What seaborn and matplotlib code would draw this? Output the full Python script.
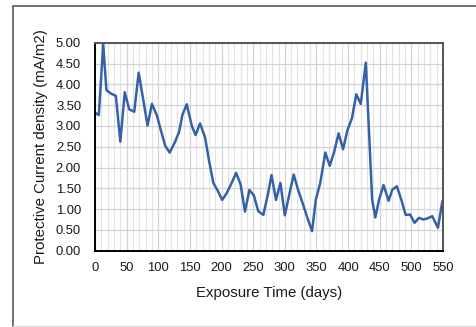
import numpy as np
import pandas as pd
import seaborn as sns
import matplotlib.pyplot as plt
from matplotlib.lines import Line2D
from matplotlib.ticker import MultipleLocator, FormatStrFormatter

# values
days = [0, 6, 13, 18, 25, 33, 40, 47, 54, 62, 69, 76, 83, 90, 98, 104, 111, 118,
        126, 133, 138, 145, 153, 159, 166, 174, 180, 187, 194, 201, 208, 216, 223,
        230, 237, 244, 251, 258, 266, 273, 279, 286, 293, 300, 307, 314, 321, 328,
        335, 343, 349, 356, 364, 371, 378, 385, 392, 399, 406, 413, 420, 428, 438,
        443, 449, 456, 464, 470, 477, 484, 491, 498, 505, 512, 519, 526, 533, 542,
        549]
current = [3.32, 3.26, 4.96, 3.86, 3.78, 3.72, 2.62, 3.81, 3.40, 3.34, 4.28, 3.65,
           3.01, 3.53, 3.24, 2.90, 2.52, 2.36, 2.60, 2.86, 3.26, 3.52, 3.00, 2.78,
           3.06, 2.72, 2.18, 1.63, 1.44, 1.22, 1.38, 1.63, 1.87, 1.60, 0.94, 1.46,
           1.33, 0.95, 0.86, 1.34, 1.82, 1.22, 1.63, 0.85, 1.35, 1.83, 1.46, 1.15,
           0.82, 0.47, 1.23, 1.63, 2.36, 2.04, 2.38, 2.82, 2.44, 2.90, 3.18, 3.76,
           3.53, 4.52, 1.23, 0.80, 1.23, 1.58, 1.20, 1.47, 1.55, 1.23, 0.86, 0.87,
           0.67, 0.79, 0.75, 0.78, 0.83, 0.55, 1.19]

df = pd.DataFrame({"days": days, "current": current})

sns.set_style("white")
plt.rcParams['font.family'] = ['Liberation Sans', 'DejaVu Sans']

fig = plt.figure(figsize=(4.76, 3.27), dpi=100)
ax = fig.add_axes([0.1996, 0.2333, 0.7311, 0.6361])

sns.lineplot(data=df, x="days", y="current", ax=ax, color="#3461a8", linewidth=1.8)

ax.set_xlim(0, 550)
ax.set_ylim(0, 5)
ax.xaxis.set_major_locator(MultipleLocator(50))
ax.xaxis.set_minor_locator(MultipleLocator(10))
ax.yaxis.set_major_locator(MultipleLocator(0.5))
ax.yaxis.set_major_formatter(FormatStrFormatter('%.2f'))

ax.grid(which='major', color='#d3d3d3', linewidth=0.9)
ax.grid(which='minor', axis='x', color='#e2e2e2', linewidth=0.8)
ax.set_axisbelow(True)

for side in ['left', 'bottom']:
    ax.spines[side].set_color('black')
    ax.spines[side].set_linewidth(1.4)
for side in ['top', 'right']:
    ax.spines[side].set_color('#555555')
    ax.spines[side].set_linewidth(1.4)

ax.tick_params(which='major', direction='inout', length=6, width=1.2,
               color='black', labelsize=9.4, labelcolor='#1a1a1a')
ax.tick_params(axis='y', pad=7)
ax.tick_params(axis='x', pad=5)
ax.tick_params(which='minor', length=0)

ax.set_xlabel("Exposure Time (days)", fontsize=10.8, color='#1a1a1a', labelpad=9)
ax.set_ylabel("Protective Current density (mA/m2)", fontsize=10.8,
              color='#1a1a1a', labelpad=6)

# outer chart frame
fig.add_artist(Line2D([13/476, 13/476], [0.003, 1 - 6/327], color='#666666', lw=1.3))
fig.add_artist(Line2D([13/476, 1.0], [1 - 6/327, 1 - 6/327], color='#666666', lw=1.3))
fig.add_artist(Line2D([13/476, 1.0], [0.004, 0.004], color='#dddddd', lw=1.0))

fig.savefig("out.png", dpi=100)
